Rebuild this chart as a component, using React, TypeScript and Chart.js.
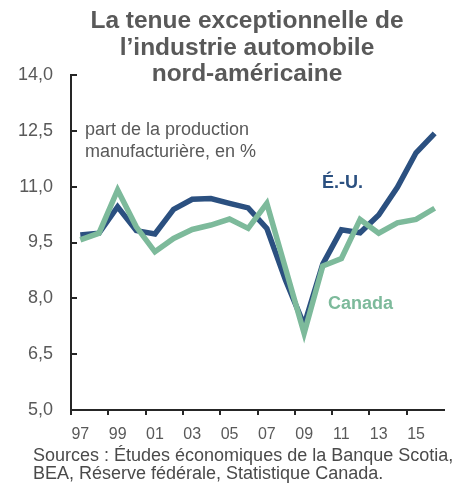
import React, { useEffect, useRef } from "react";
import { Chart, registerables } from "chart.js";

Chart.register(...registerables);

const years: string[] = ["97","98","99","00","01","02","03","04","05","06","07","08","09","10","11","12","13","14","15","16"];
const usValues: number[] = [9.70, 9.75, 10.46, 9.82, 9.73, 10.39, 10.66, 10.68, 10.55, 10.43, 9.88, 8.49, 7.28, 8.92, 9.84, 9.76, 10.24, 10.98, 11.91, 12.43];
const canadaValues: number[] = [9.57, 9.75, 10.91, 9.92, 9.25, 9.61, 9.85, 9.97, 10.13, 9.88, 10.55, 8.81, 7.06, 8.87, 9.07, 10.12, 9.75, 10.03, 10.12, 10.42];
const titleLines: string[] = ["La tenue exceptionnelle de", "l\u2019industrie automobile", "nord-am\u00e9ricaine"];
const noteLines: string[] = ["part de la production", "manufacturi\u00e8re, en %"];
const sourceLines: string[] = ["Sources : \u00c9tudes \u00e9conomiques de la Banque Scotia,", "BEA, R\u00e9serve f\u00e9d\u00e9rale, Statistique Canada."];
const usLabel = "\u00c9.-U.";
const canadaLabel = "Canada";

const NAVY = "#2b5080";
const GREEN = "#7dba9b";
const GREY = "#595959";
const AXIS = "#262626";
const FONT = "'Liberation Sans', Arial, sans-serif";

const textPlugin = {
  id: "texts",
  afterDraw(chart: any) {
    const ctx = chart.ctx;
    const y = chart.scales.y;
    const area = chart.chartArea;
    ctx.save();
    // inward y tick marks
    ctx.strokeStyle = AXIS;
    ctx.lineWidth = 2;
    y.ticks.forEach((t: any) => {
      const py = Math.round(y.getPixelForValue(t.value));
      ctx.beginPath();
      ctx.moveTo(area.left, py);
      ctx.lineTo(area.left + 6, py);
      ctx.stroke();
    });
    // title
    ctx.fillStyle = GREY;
    ctx.font = `bold 24.5px ${FONT}`;
    ctx.textAlign = "center";
    ctx.textBaseline = "alphabetic";
    titleLines.forEach((l, i) => ctx.fillText(l, 247, 28 + i * 26.5));
    // note
    ctx.textAlign = "left";
    ctx.font = `18px ${FONT}`;
    noteLines.forEach((l, i) => ctx.fillText(l, 85, 135 + i * 22));
    // series labels
    ctx.font = `bold 18px ${FONT}`;
    ctx.fillStyle = NAVY;
    ctx.fillText(usLabel, 322, 188);
    ctx.fillStyle = GREEN;
    ctx.fillText(canadaLabel, 328, 309);
    // sources
    ctx.fillStyle = "#4a4a4a";
    ctx.font = `18px ${FONT}`;
    sourceLines.forEach((l, i) => ctx.fillText(l, 33, 461 + i * 18));
    ctx.restore();
  },
};

export default function App() {
  const ref = useRef<HTMLCanvasElement>(null);
  useEffect(() => {
    if (!ref.current) return;
    const chart = new Chart(ref.current, {
      type: "line",
      data: {
        labels: years,
        datasets: [
          {
            label: "Canada",
            data: canadaValues,
            borderColor: GREEN,
            backgroundColor: GREEN,
            borderWidth: 5.5,
            pointRadius: 0,
            tension: 0,
          },
          {
            label: "É.-U.",
            data: usValues,
            borderColor: NAVY,
            backgroundColor: NAVY,
            borderWidth: 5.5,
            pointRadius: 0,
            tension: 0,
          },
        ],
      },
      options: {
        animation: false,
        responsive: false,
        events: [],
        layout: { padding: { top: 75, right: 22, left: 0, bottom: 0 } },
        plugins: { legend: { display: false }, tooltip: { enabled: false }, title: { display: false } },
        scales: {
          x: {
            type: "category",
            offset: true,
            afterFit: (s: any) => { s.height = 74; },
            grid: {
              offset: true,
              drawOnChartArea: false,
              drawTicks: true,
              tickLength: 5,
              lineWidth: 2,
              color: (c: any) => (c.index % 2 === 0 ? AXIS : "rgba(0,0,0,0)"),
            },
            border: { display: true, color: AXIS, width: 2 },
            ticks: {
              autoSkip: false,
              maxRotation: 0,
              padding: 10,
              color: GREY,
              font: { family: FONT, size: 16 },
              callback: (v: any, i: number) => (i % 2 === 0 ? years[i] : ""),
            },
          },
          y: {
            min: 5,
            max: 14,
            afterFit: (s: any) => { s.width = 71; },
            grid: { display: true, drawOnChartArea: false, drawTicks: false },
            border: { display: true, color: AXIS, width: 2 },
            ticks: {
              stepSize: 1.5,
              padding: 18,
              color: GREY,
              font: { family: FONT, size: 18 },
              callback: (v: any) => Number(v).toFixed(1).replace(".", ","),
            },
          },
        },
      },
      plugins: [textPlugin],
    });
    return () => chart.destroy();
  }, []);
  return (
    <div style={{ position: "fixed", left: 0, top: 0, width: 466, height: 484, background: "#fff" }}>
      <canvas ref={ref} width={466} height={484} style={{ display: "block" }} />
    </div>
  );
}
